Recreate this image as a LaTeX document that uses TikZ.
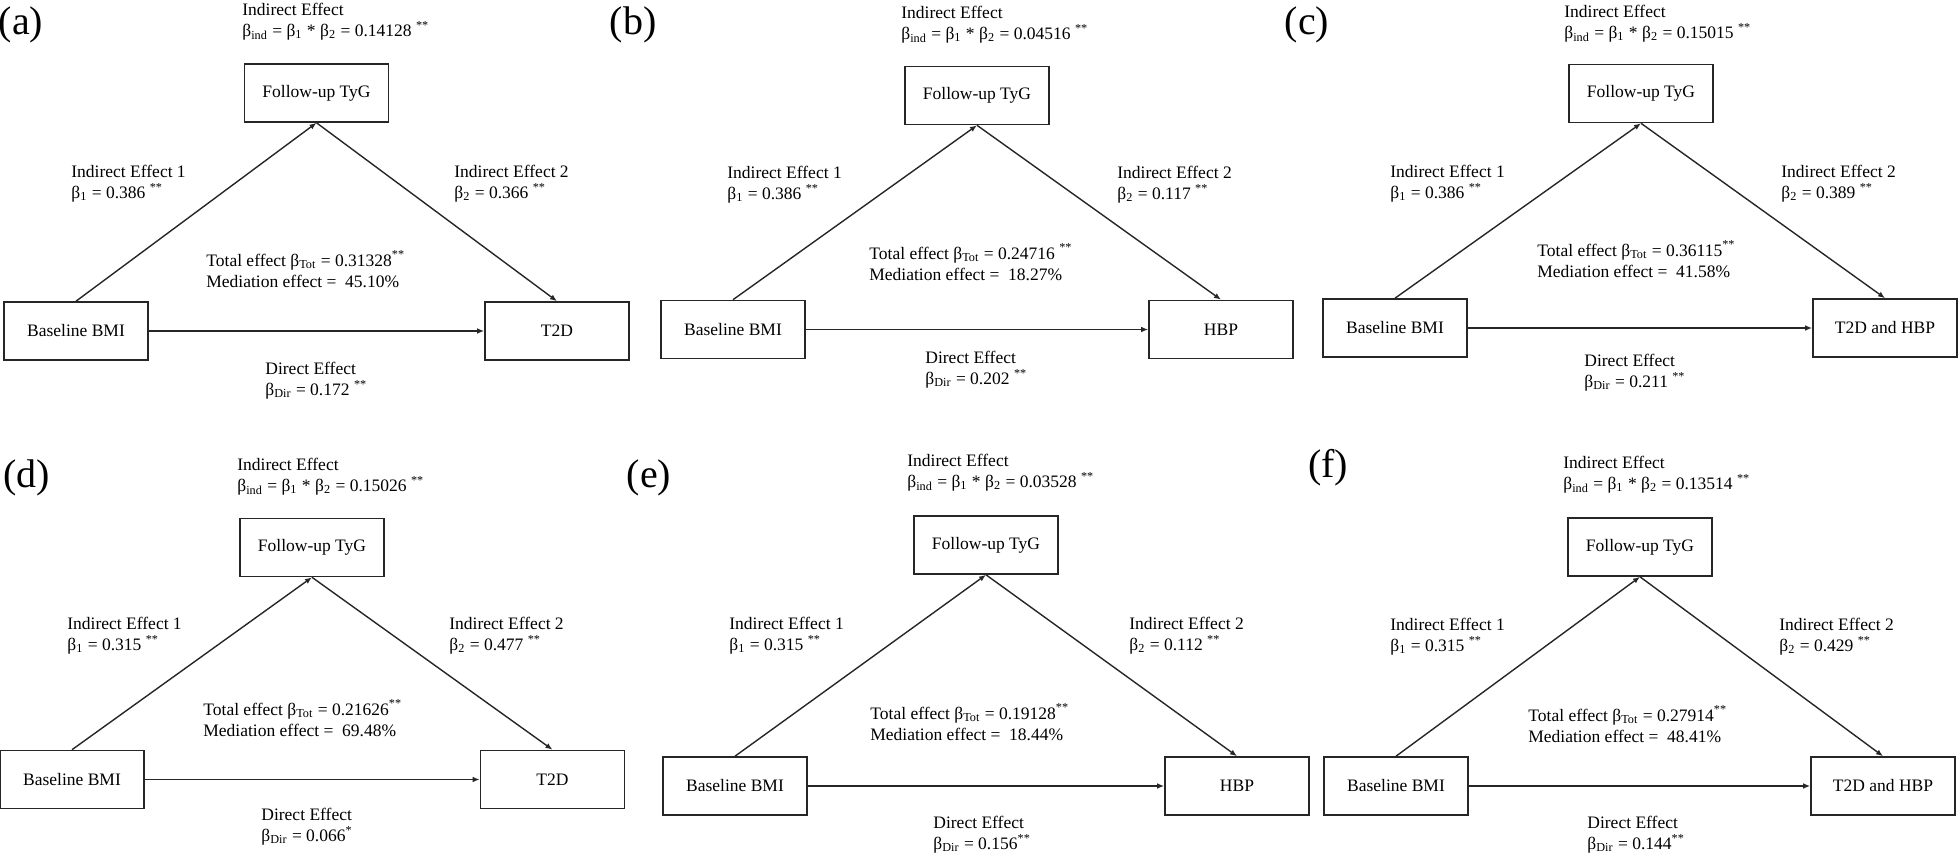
\documentclass[tikz,border=0pt]{standalone}
\usepackage{fontspec}
\setmainfont{Liberation Serif}
\usetikzlibrary{arrows.meta,positioning}

\begin{document}
\begin{tikzpicture}[x=0.5pt,y=-0.5pt,
  >={Latex[length=3.5pt,width=2.8pt]},
  box/.style={draw=black!85,line width=0.8pt,minimum width=72pt,minimum height=29pt,inner sep=0pt,font=\fontsize{8.75}{10.5}\selectfont},
  lbl/.style={anchor=north west,align=left,inner sep=0pt,font=\fontsize{8.75}{10.5}\selectfont},
  tag/.style={inner sep=0pt,font=\fontsize{20}{24}\selectfont},
  edge/.style={->,draw=black!85,line width=0.7pt}]
\useasboundingbox (0,0) rectangle (1960,856);

% (a)
\node[tag] (tagA) at (21,25) {(a)};
\node[lbl] (indA) at (242,3) {Indirect Effect\\β\textsubscript{ind} = β\textsubscript{1} * β\textsubscript{2} = 0.14128 \textsuperscript{**}};
\node[box] (tygA) at (316.5,93) {Follow-up TyG};
\node[box] (bmiA) at (76,331) {Baseline BMI};
\node[box] (outA) [right of=bmiA,node distance=240.5pt] {T2D};
\node[lbl] (ieoneA) at (71,165) {Indirect Effect 1\\β\textsubscript{1} = 0.386 \textsuperscript{**}};
\node[lbl] (ietwoA) at (454,165) {Indirect Effect 2\\β\textsubscript{2} = 0.366 \textsuperscript{**}};
\node[lbl] (totA) at (206,250) {Total effect β\textsubscript{Tot} = 0.31328\textsuperscript{**}\\Mediation effect = \ 45.10\%};
\node[lbl] (dirA) at (265,362) {Direct Effect\\β\textsubscript{Dir} = 0.172 \textsuperscript{**}};
\draw[edge] (bmiA.north) -- (tygA.south);
\draw[edge] (tygA.south) -- (outA.north);
\draw[edge] (bmiA.east) -- (outA.west);

% (b)
\node[tag] (tagB) at (633,25) {(b)};
\node[lbl] (indB) at (901,6) {Indirect Effect\\β\textsubscript{ind} = β\textsubscript{1} * β\textsubscript{2} = 0.04516 \textsuperscript{**}};
\node[box] (tygB) at (977,95.5) {Follow-up TyG};
\node[box] (bmiB) at (733,329.5) {Baseline BMI};
\node[box] (outB) [right of=bmiB,node distance=244pt] {HBP};
\node[lbl] (ieoneB) at (727,166) {Indirect Effect 1\\β\textsubscript{1} = 0.386 \textsuperscript{**}};
\node[lbl] (ietwoB) at (1117,166) {Indirect Effect 2\\β\textsubscript{2} = 0.117 \textsuperscript{**}};
\node[lbl] (totB) at (869,243) {Total effect β\textsubscript{Tot} = 0.24716 \textsuperscript{**}\\Mediation effect = \ 18.27\%};
\node[lbl] (dirB) at (925,351) {Direct Effect\\β\textsubscript{Dir} = 0.202 \textsuperscript{**}};
\draw[edge] (bmiB.north) -- (tygB.south);
\draw[edge] (tygB.south) -- (outB.north);
\draw[edge] (bmiB.east) -- (outB.west);

% (c)
\node[tag] (tagC) at (1307,25) {(c)};
\node[lbl] (indC) at (1564,5) {Indirect Effect\\β\textsubscript{ind} = β\textsubscript{1} * β\textsubscript{2} = 0.15015 \textsuperscript{**}};
\node[box] (tygC) at (1641,93.5) {Follow-up TyG};
\node[box] (bmiC) at (1395,328) {Baseline BMI};
\node[box] (outC) [right of=bmiC,node distance=245pt] {T2D and HBP};
\node[lbl] (ieoneC) at (1390,165) {Indirect Effect 1\\β\textsubscript{1} = 0.386 \textsuperscript{**}};
\node[lbl] (ietwoC) at (1781,165) {Indirect Effect 2\\β\textsubscript{2} = 0.389 \textsuperscript{**}};
\node[lbl] (totC) at (1537,240) {Total effect β\textsubscript{Tot} = 0.36115\textsuperscript{**}\\Mediation effect = \ 41.58\%};
\node[lbl] (dirC) at (1584,354) {Direct Effect\\β\textsubscript{Dir} = 0.211 \textsuperscript{**}};
\draw[edge] (bmiC.north) -- (tygC.south);
\draw[edge] (tygC.south) -- (outC.north);
\draw[edge] (bmiC.east) -- (outC.west);

% (d)
\node[tag] (tagD) at (27,478) {(d)};
\node[lbl] (indD) at (237,458) {Indirect Effect\\β\textsubscript{ind} = β\textsubscript{1} * β\textsubscript{2} = 0.15026 \textsuperscript{**}};
\node[box] (tygD) at (312,547.5) {Follow-up TyG};
\node[box] (bmiD) at (72,779.5) {Baseline BMI};
\node[box] (outD) [right of=bmiD,node distance=240.25pt] {T2D};
\node[lbl] (ieoneD) at (67,617) {Indirect Effect 1\\β\textsubscript{1} = 0.315 \textsuperscript{**}};
\node[lbl] (ietwoD) at (449,617) {Indirect Effect 2\\β\textsubscript{2} = 0.477 \textsuperscript{**}};
\node[lbl] (totD) at (203,699) {Total effect β\textsubscript{Tot} = 0.21626\textsuperscript{**}\\Mediation effect = \ 69.48\%};
\node[lbl] (dirD) at (261,808) {Direct Effect\\β\textsubscript{Dir} = 0.066\textsuperscript{*}};
\draw[edge] (bmiD.north) -- (tygD.south);
\draw[edge] (tygD.south) -- (outD.north);
\draw[edge] (bmiD.east) -- (outD.west);

% (e)
\node[tag] (tagE) at (649,478) {(e)};
\node[lbl] (indE) at (907,454) {Indirect Effect\\β\textsubscript{ind} = β\textsubscript{1} * β\textsubscript{2} = 0.03528 \textsuperscript{**}};
\node[box] (tygE) at (986,545) {Follow-up TyG};
\node[box] (bmiE) at (735,786) {Baseline BMI};
\node[box] (outE) [right of=bmiE,node distance=251pt] {HBP};
\node[lbl] (ieoneE) at (729,617) {Indirect Effect 1\\β\textsubscript{1} = 0.315 \textsuperscript{**}};
\node[lbl] (ietwoE) at (1129,617) {Indirect Effect 2\\β\textsubscript{2} = 0.112 \textsuperscript{**}};
\node[lbl] (totE) at (870,703) {Total effect β\textsubscript{Tot} = 0.19128\textsuperscript{**}\\Mediation effect = \ 18.44\%};
\node[lbl] (dirE) at (933,816) {Direct Effect\\β\textsubscript{Dir} = 0.156\textsuperscript{**}};
\draw[edge] (bmiE.north) -- (tygE.south);
\draw[edge] (tygE.south) -- (outE.north);
\draw[edge] (bmiE.east) -- (outE.west);

% (f)
\node[tag] (tagF) at (1328,468) {(f)};
\node[lbl] (indF) at (1563,456) {Indirect Effect\\β\textsubscript{ind} = β\textsubscript{1} * β\textsubscript{2} = 0.13514 \textsuperscript{**}};
\node[box] (tygF) at (1640,547) {Follow-up TyG};
\node[box] (bmiF) at (1396,786) {Baseline BMI};
\node[box] (outF) [right of=bmiF,node distance=243.5pt] {T2D and HBP};
\node[lbl] (ieoneF) at (1390,618) {Indirect Effect 1\\β\textsubscript{1} = 0.315 \textsuperscript{**}};
\node[lbl] (ietwoF) at (1779,618) {Indirect Effect 2\\β\textsubscript{2} = 0.429 \textsuperscript{**}};
\node[lbl] (totF) at (1528,705) {Total effect β\textsubscript{Tot} = 0.27914\textsuperscript{**}\\Mediation effect = \ 48.41\%};
\node[lbl] (dirF) at (1587,816) {Direct Effect\\β\textsubscript{Dir} = 0.144\textsuperscript{**}};
\draw[edge] (bmiF.north) -- (tygF.south);
\draw[edge] (tygF.south) -- (outF.north);
\draw[edge] (bmiF.east) -- (outF.west);
\end{tikzpicture}
\end{document}
